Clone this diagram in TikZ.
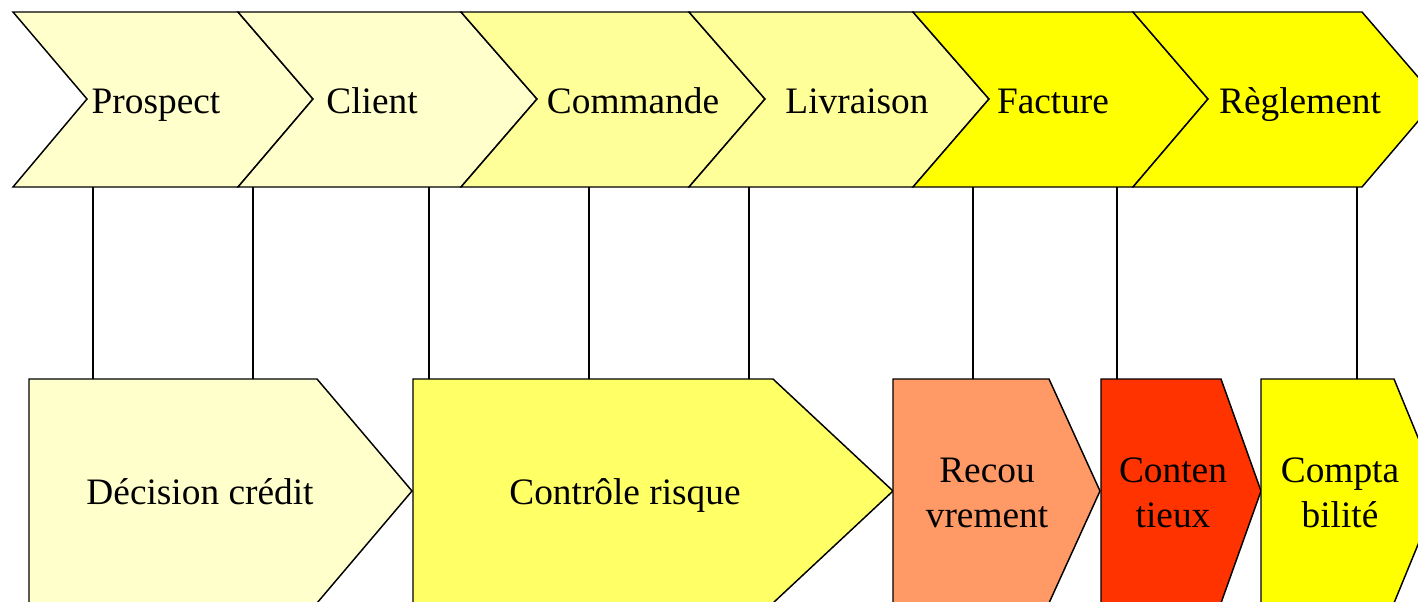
\documentclass[tikz,border=0pt]{standalone}
\usepackage{fontspec}
\setmainfont{Liberation Serif}
\definecolor{pale}{HTML}{FFFFCC}
\definecolor{mid}{HTML}{FFFF99}
\definecolor{yel}{HTML}{FFFF00}
\definecolor{yel2}{HTML}{FFFF66}
\definecolor{orng}{HTML}{FF9966}
\definecolor{redo}{HTML}{FF3300}
\begin{document}
\begin{tikzpicture}[x=0.75pt,y=-0.75pt,
  shp/.style={draw=black,line width=1.1pt,line join=miter},
  lbl/.style={font=\fontsize{28}{33.75}\selectfont,anchor=base,align=center,inner sep=0pt},
  conn/.style={draw=black,line width=1.1pt}]
\clip (0,0) rectangle (1418,601);
\useasboundingbox (0,0) rectangle (1418,601);
% top chevrons
\path[shp,fill=pale] (13,12) -- (238,12) -- (313,99) -- (238,187) -- (13,187) -- (87,99) -- cycle;
\path[shp,fill=pale] (238,12) -- (461,12) -- (537,99) -- (461,187) -- (238,187) -- (313,99) -- cycle;
\path[shp,fill=mid] (461,12) -- (689,12) -- (765,99) -- (689,187) -- (461,187) -- (537,99) -- cycle;
\path[shp,fill=mid] (689,12) -- (913,12) -- (989,99) -- (913,187) -- (689,187) -- (765,99) -- cycle;
\path[shp,fill=yel] (913,12) -- (1133,12) -- (1208,99) -- (1133,187) -- (913,187) -- (989,99) -- cycle;
\path[shp,fill=yel] (1133,12) -- (1362,12) -- (1437,99) -- (1362,187) -- (1133,187) -- (1208,99) -- cycle;
\node[lbl] (prospect) at (156,113) {Prospect};
\node[lbl] (client) at (372,113) {Client};
\node[lbl] (commande) at (633,113) {Commande};
\node[lbl] (livraison) at (857,113) {Livraison};
\node[lbl] (facture) at (1053,113) {Facture};
\node[lbl] (reglement) at (1300,113) {Règlement};
% bottom shapes
\path[shp,fill=pale] (29,379) -- (317,379) -- (412,491) -- (317,603) -- (29,603) -- cycle;
\path[shp,fill=yel2] (413,379) -- (773,379) -- (893,491) -- (773,603) -- (413,603) -- cycle;
\path[shp,fill=orng] (893,379) -- (1049,379) -- (1100,491) -- (1049,603) -- (893,603) -- cycle;
\path[shp,fill=redo] (1101,379) -- (1221,379) -- (1261,491) -- (1221,603) -- (1101,603) -- cycle;
\path[shp,fill=yel] (1261,379) -- (1394,379) -- (1440,491) -- (1394,603) -- (1261,603) -- cycle;
\node[lbl] (decision) at (200,504) {Décision crédit};
\node[lbl] (controle) at (625,504) {Contrôle risque};
\node[lbl] (recouvrement) at (987,527) {Recou\\vrement};
\node[lbl] (contentieux) at (1173,527) {Conten\\tieux};
\node[lbl] (comptabilite) at (1340,527) {Compta\\bilité};
% connectors
\foreach \i/\x in {1/93,2/253,3/429,4/589,5/749,6/973,7/1117,8/1357}{
  \coordinate (t\i) at (\x,187);
  \coordinate (b\i) at (\x,379);
  \draw[conn] (t\i) -- (b\i);
}
\end{tikzpicture}
\end{document}
